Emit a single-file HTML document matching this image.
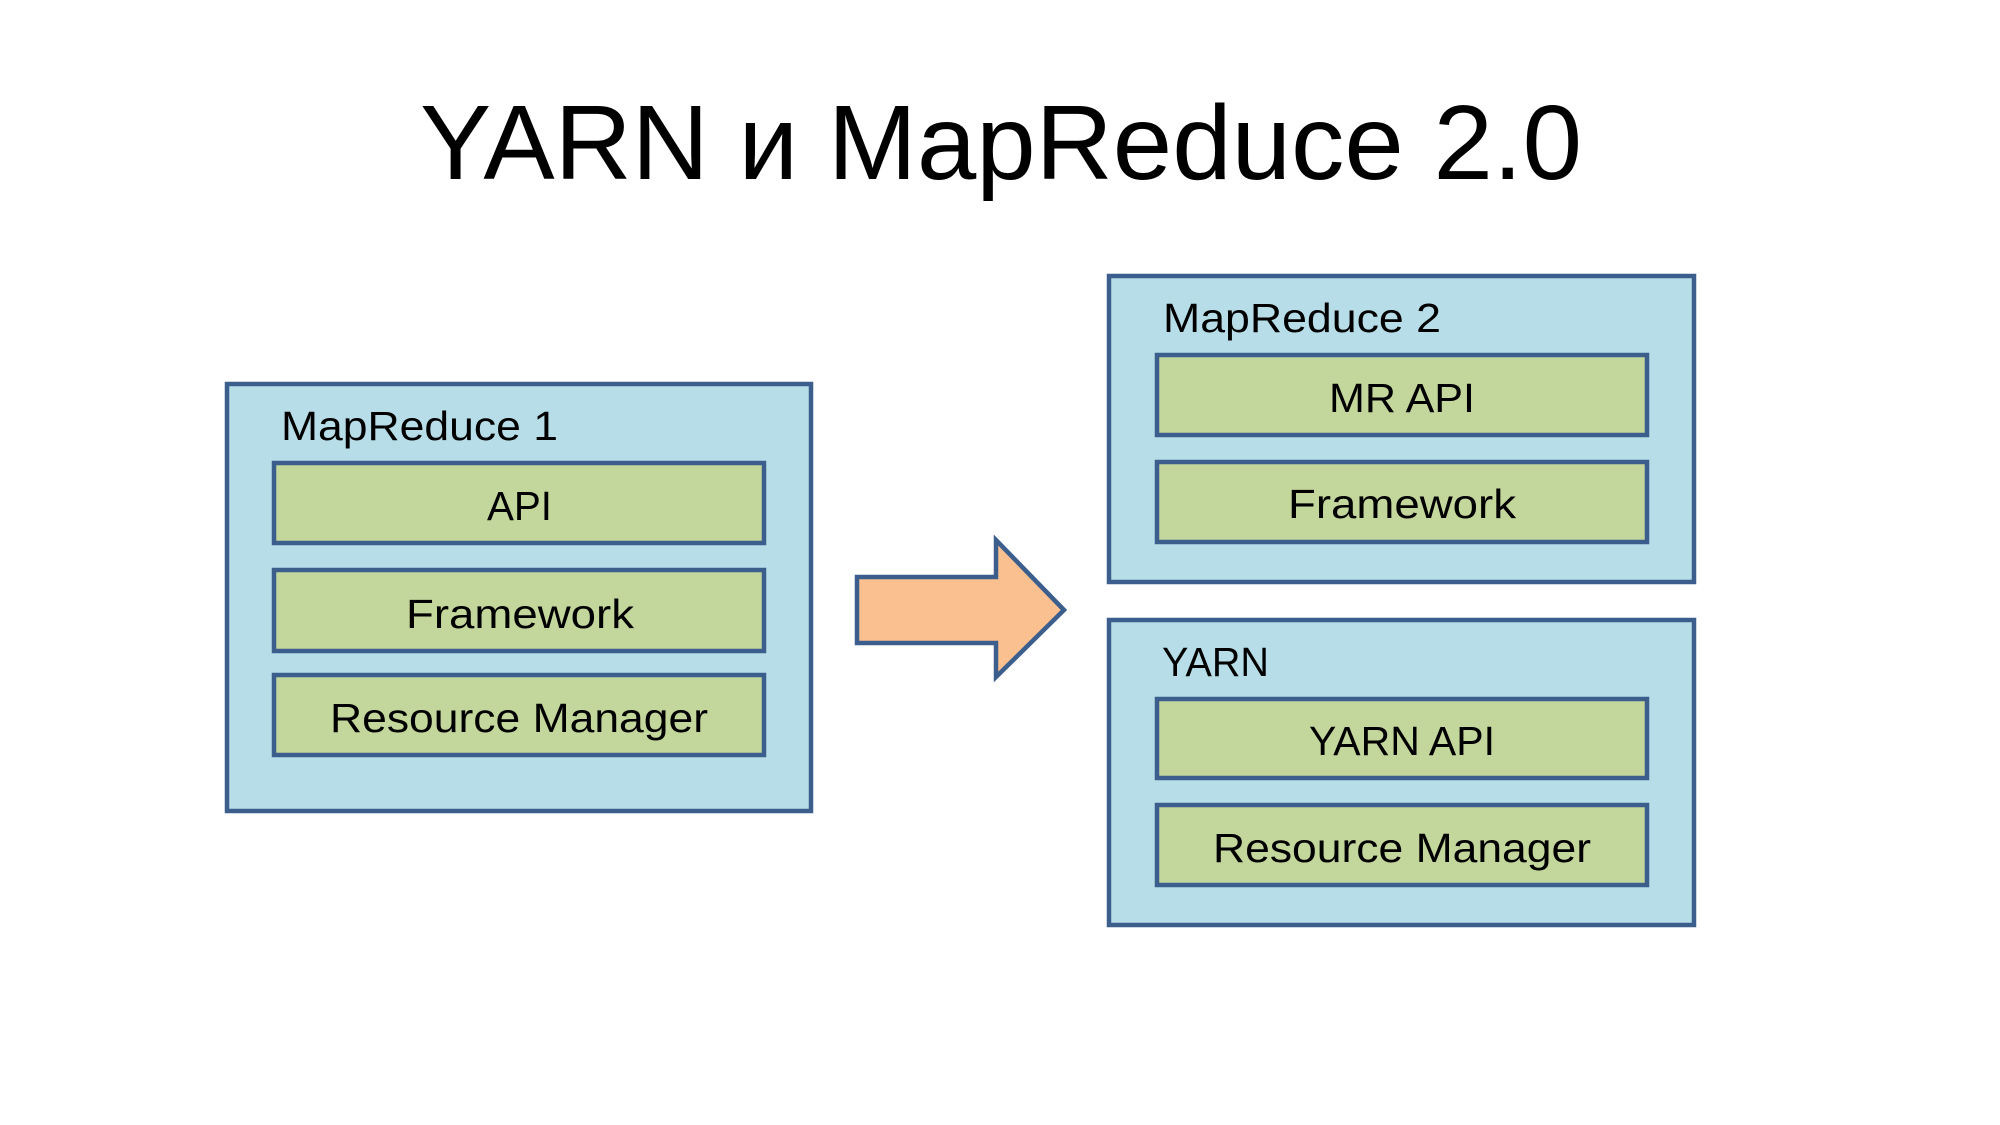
<!DOCTYPE html>
<html><head><meta charset="utf-8"><style>html,body{margin:0;padding:0;background:#fff;}svg{display:block}</style></head>
<body>
<svg width="2000" height="1125" viewBox="0 0 2000 1125" xmlns="http://www.w3.org/2000/svg" font-family="'Liberation Sans', 'Noto Sans CJK SC', sans-serif">
<text x="420" y="179" font-size="106" textLength="1162" lengthAdjust="spacingAndGlyphs" fill="#000">YARN и MapReduce 2.0</text>
<g stroke="#3b5e8c" stroke-width="4.5">
<rect x="227" y="384" width="584" height="427" fill="#b7dee8"/>
<rect x="274" y="463" width="490" height="80" fill="#c3d69b"/>
<rect x="274" y="570" width="490" height="81" fill="#c3d69b"/>
<rect x="274" y="675" width="490" height="80" fill="#c3d69b"/>
<rect x="1109" y="276" width="585" height="306" fill="#b7dee8"/>
<rect x="1157" y="355" width="490" height="80" fill="#c3d69b"/>
<rect x="1157" y="462" width="490" height="80" fill="#c3d69b"/>
<rect x="1109" y="620" width="585" height="305" fill="#b7dee8"/>
<rect x="1157" y="699" width="490" height="79" fill="#c3d69b"/>
<rect x="1157" y="805" width="490" height="80" fill="#c3d69b"/>
<polygon points="857,577 996,577 996,540 1064,610 996,677 996,643 857,643" fill="#fac090"/>
</g>
<g font-size="41" fill="#000">
<text x="281" y="440" textLength="277" lengthAdjust="spacingAndGlyphs">MapReduce 1</text>
<text x="487" y="520" textLength="65" lengthAdjust="spacingAndGlyphs">API</text>
<text x="406" y="628" textLength="228" lengthAdjust="spacingAndGlyphs">Framework</text>
<text x="330" y="732" textLength="378" lengthAdjust="spacingAndGlyphs">Resource Manager</text>
<text x="1163" y="332" textLength="278" lengthAdjust="spacingAndGlyphs">MapReduce 2</text>
<text x="1329" y="412" textLength="146" lengthAdjust="spacingAndGlyphs">MR API</text>
<text x="1288" y="518" textLength="228" lengthAdjust="spacingAndGlyphs">Framework</text>
<text x="1162" y="676" textLength="107" lengthAdjust="spacingAndGlyphs">YARN</text>
<text x="1309" y="755" textLength="186" lengthAdjust="spacingAndGlyphs">YARN API</text>
<text x="1213" y="862" textLength="378" lengthAdjust="spacingAndGlyphs">Resource Manager</text>
</g>
</svg>
</body></html>
